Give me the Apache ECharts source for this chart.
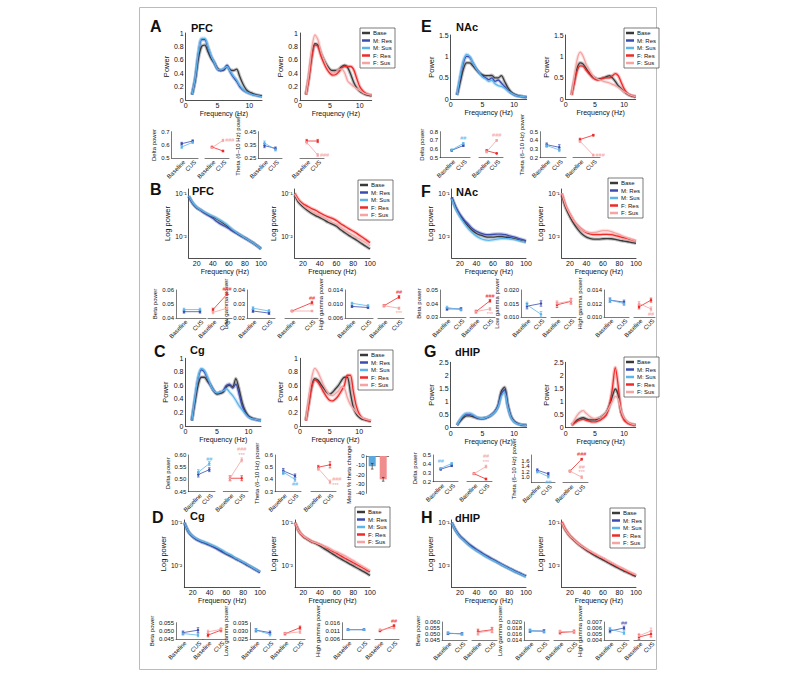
<!DOCTYPE html>
<html><head><meta charset="utf-8">
<script src="https://cdn.jsdelivr.net/npm/echarts@6/dist/echarts.min.js"></script>
<style>html,body{margin:0;padding:0;background:#fff}#c{width:791px;height:684px}</style>
</head><body><div id="c"></div><script>
// ---------- DATA ----------
const freqTheta = [1,1.5,2,2.5,3,3.5,4,4.5,5,5.5,6,6.5,7,7.5,8,8.5,9,9.5,10,10.5,11,11.5,12];
const freqGamma = [10,15,20,25,30,35,40,45,50,55,60,65,70,75,80,85,90,95,100];
const legendNames = ['Base','M: Res','M: Sus','F: Res','F: Sus'];
const dotCats = ['Baseline','CUS'];

const A_M_base = [.08,.3,.62,.8,.82,.72,.62,.55,.47,.44,.45,.5,.45,.44,.46,.35,.24,.16,.12,.1,.08,.07,.06];
const A_M_res  = [.08,.32,.7,.9,.9,.78,.65,.56,.46,.44,.46,.52,.42,.34,.28,.2,.15,.12,.1,.08,.07,.06,.05];
const A_M_sus  = [.08,.33,.72,.92,.92,.8,.66,.56,.46,.45,.47,.5,.43,.36,.3,.22,.16,.12,.1,.08,.07,.06,.05];
const A_F_base = [.08,.35,.68,.84,.82,.7,.6,.52,.46,.44,.44,.46,.5,.52,.48,.38,.26,.18,.13,.1,.08,.07,.06];
const A_F_res  = [.08,.33,.65,.82,.8,.66,.55,.46,.4,.37,.38,.42,.48,.5,.5,.5,.45,.32,.2,.14,.1,.08,.07];
const A_F_sus  = [.08,.4,.78,.97,.9,.72,.6,.5,.43,.4,.42,.46,.46,.4,.28,.24,.2,.17,.14,.11,.09,.08,.07];
const C_M_base = [.08,.35,.6,.72,.72,.66,.6,.52,.47,.48,.5,.58,.6,.58,.7,.55,.35,.22,.15,.12,.1,.09,.08];
const C_M_res  = [.08,.4,.7,.83,.8,.7,.6,.52,.48,.5,.52,.6,.62,.56,.62,.48,.3,.2,.14,.11,.1,.09,.08];
const C_M_sus  = [.08,.42,.72,.85,.82,.72,.6,.52,.49,.5,.52,.55,.5,.45,.38,.3,.24,.18,.13,.11,.1,.09,.08];
const C_F_base = [.08,.35,.6,.7,.68,.62,.56,.5,.47,.5,.55,.6,.67,.72,.72,.5,.28,.18,.13,.1,.09,.08,.07];
const C_F_res  = [.08,.33,.58,.68,.65,.58,.5,.43,.38,.37,.4,.45,.52,.6,.75,.75,.52,.3,.18,.12,.1,.08,.07];
const C_F_sus  = [.08,.42,.72,.85,.8,.7,.6,.52,.46,.45,.48,.52,.58,.56,.42,.32,.26,.2,.15,.12,.1,.09,.08];
const E_M_base = [.1,.4,.7,.85,.85,.78,.7,.62,.57,.55,.55,.56,.5,.5,.55,.42,.28,.18,.12,.09,.07,.06,.05];
const E_M_res  = [.1,.5,.85,1.0,.98,.85,.72,.62,.55,.5,.46,.5,.42,.45,.38,.3,.22,.15,.11,.08,.07,.06,.05];
const E_M_sus  = [.1,.55,.9,1.05,1.0,.85,.72,.62,.52,.48,.42,.44,.36,.32,.3,.26,.2,.15,.11,.08,.07,.06,.05];
const E_F_base = [.1,.45,.75,.85,.82,.72,.62,.55,.5,.47,.48,.5,.53,.55,.5,.42,.32,.25,.18,.13,.09,.07,.05];
const E_F_res  = [.1,.4,.68,.78,.77,.68,.6,.52,.47,.45,.47,.5,.5,.5,.55,.6,.55,.4,.25,.15,.1,.08,.07];
const E_F_sus  = [.1,.55,.95,1.1,1.0,.82,.7,.58,.5,.47,.45,.42,.4,.38,.35,.32,.28,.23,.18,.14,.1,.08,.06];
const G_M_base = [.1,.25,.38,.45,.45,.42,.38,.35,.35,.37,.42,.5,.62,.85,1.4,1.55,.9,.45,.25,.17,.12,.1,.09];
const G_M_res  = [.1,.3,.45,.52,.52,.47,.4,.36,.35,.37,.42,.5,.62,.85,1.3,1.45,.85,.42,.24,.16,.12,.1,.09];
const G_M_sus  = [.1,.32,.48,.55,.55,.5,.42,.37,.36,.38,.43,.5,.6,.8,1.2,1.35,.8,.4,.22,.15,.12,.1,.09];
const G_F_base = [.1,.2,.3,.36,.38,.34,.3,.3,.3,.34,.4,.48,.6,.85,1.2,1.48,1.25,.6,.35,.22,.15,.12,.1];
const G_F_res  = [.1,.18,.25,.3,.32,.28,.25,.22,.22,.25,.3,.38,.5,.85,1.5,2.3,1.6,.6,.3,.2,.14,.11,.09];
const G_F_sus  = [.1,.3,.48,.6,.65,.55,.45,.38,.35,.37,.4,.47,.6,.8,1.0,1.2,1.1,.65,.38,.25,.17,.13,.1];

const B_M_base = [.085,.058,.046,.04,.035,.031,.028,.025,.022,.019,.016,.0135,.0118,.0103,.0091,.008,.007,.006,.0051];
const B_M_res  = [.085,.058,.046,.04,.034,.03,.026,.022,.019,.017,.015,.013,.0115,.0101,.009,.0079,.0069,.006,.005];
const B_M_sus  = [.087,.06,.047,.041,.036,.032,.029,.026,.023,.02,.017,.014,.012,.0105,.0092,.008,.007,.006,.0051];
const B_F_base = [.09,.06,.048,.04,.034,.03,.027,.024,.021,.019,.017,.014,.012,.0103,.009,.0078,.0067,.0058,.005];
const B_F_res  = [.1,.07,.057,.05,.044,.04,.035,.031,.028,.026,.023,.0195,.017,.0148,.013,.0113,.0097,.0083,.007];
const B_F_sus  = [.095,.065,.052,.044,.038,.034,.03,.027,.024,.021,.019,.016,.0138,.012,.0105,.0092,.008,.007,.006];
const D_M_base = [.1,.062,.048,.041,.037,.034,.031,.028,.025,.022,.019,.017,.015,.0135,.012,.0105,.0093,.0082,.0072];
const D_M_res  = [.1,.06,.047,.04,.036,.033,.03,.027,.024,.021,.019,.017,.015,.0133,.0118,.0104,.0092,.0081,.007];
const D_M_sus  = [.1,.062,.049,.042,.038,.035,.032,.029,.026,.023,.02,.018,.0155,.0138,.0122,.0108,.0095,.0083,.0073];
const D_F_base = [.1,.062,.048,.041,.036,.033,.029,.025,.022,.019,.0165,.0145,.0128,.0113,.01,.0088,.0078,.0069,.006];
const D_F_res  = [.1,.062,.048,.042,.037,.034,.031,.028,.025,.022,.0195,.017,.015,.0133,.0118,.0105,.0093,.0082,.0073];
const D_F_sus  = [.1,.062,.049,.042,.037,.034,.031,.028,.026,.023,.021,.019,.017,.015,.0132,.0115,.01,.0088,.0077];
const F_M_base = [.08,.045,.03,.022,.017,.0135,.0115,.0105,.0098,.0095,.0095,.0097,.0098,.0095,.0092,.0088,.0083,.0078,.0074];
const F_M_res  = [.08,.047,.032,.024,.019,.015,.013,.0118,.011,.0108,.011,.0112,.0112,.0108,.0102,.0096,.009,.0084,.0078];
const F_M_sus  = [.075,.042,.028,.02,.015,.012,.01,.0088,.0082,.008,.0082,.0085,.0088,.0088,.0087,.0084,.008,.0076,.0072];
const F_F_base = [.09,.045,.028,.019,.014,.011,.0095,.0088,.0085,.0085,.0087,.0088,.0087,.0084,.008,.0077,.0074,.0071,.0068];
const F_F_res  = [.1,.05,.032,.022,.017,.014,.012,.0112,.0108,.0108,.011,.011,.0108,.0103,.0097,.0092,.0087,.0082,.0077];
const F_F_sus  = [.1,.05,.032,.022,.017,.014,.0125,.012,.0122,.0128,.0135,.0135,.0128,.0118,.0108,.0098,.009,.0083,.0077];
const H_M_base = [.1,.065,.048,.039,.032,.027,.023,.02,.0175,.0155,.0138,.0122,.0108,.0096,.0086,.0077,.007,.0063,.0057];
const H_M_res  = [.1,.066,.049,.04,.033,.028,.024,.021,.018,.016,.014,.0125,.011,.0098,.0088,.0079,.0071,.0064,.0058];
const H_M_sus  = [.1,.064,.047,.038,.031,.026,.0225,.0195,.017,.015,.0134,.012,.0107,.0095,.0085,.0076,.0069,.0062,.0056];
const H_F_base = [.1,.065,.048,.039,.032,.027,.023,.02,.0175,.0155,.0138,.0122,.0108,.0096,.0086,.0077,.007,.0063,.0057];
const H_F_res  = [.105,.068,.05,.04,.033,.028,.024,.021,.0185,.0165,.0147,.013,.0115,.0102,.0091,.0082,.0073,.0066,.006];
const H_F_sus  = [.1,.066,.049,.04,.033,.028,.0245,.0215,.019,.0168,.015,.0133,.0118,.0105,.0094,.0084,.0076,.0068,.0062];

// Dot plots: rows = [Res, Sus], each [baseline, CUS, errBaseline, errCUS]
const A_deltaM = [[.61,.63,.01,.008],[.585,.62,.01,.008]];
const A_deltaF = [[.585,.555,.006,.006],[.58,.635,.006,.008]];
const A_thetaM = [[.345,.325,.015,.01],[.365,.315,.015,.01]];
const A_thetaF = [[.38,.38,.012,.012],[.37,.275,.012,.01]];
const B_betaM = [[.0445,.0445,.001,.001],[.046,.046,.001,.001]];
const B_betaF = [[.046,.057,.001,.001],[.044,.047,.001,.001]];
const B_lgM = [[.025,.0235,.001,.001],[.027,.025,.001,.001]];
const B_lgF = [[.025,.031,.0005,.001],[.025,.025,.0005,.0005]];
const B_hgM = [[.0093,.009,.0003,.0003],[.0102,.0095,.0003,.0003]];
const B_hgF = [[.0095,.012,.0003,.0004],[.0095,.0088,.0003,.0003]];
const C_deltaM = [[.52,.54,.01,.008],[.53,.565,.01,.008]];
const C_deltaF = [[.505,.505,.01,.01],[.505,.58,.01,.008]];
const C_thetaM = [[.47,.43,.02,.015],[.46,.40,.02,.015]];
const C_thetaF = [[.50,.52,.015,.025],[.49,.38,.015,.015]];
const C_barVals = [-11,-25];
const C_barErr = [3,2];
const D_betaM = [[.049,.0505,.001,.0015],[.0485,.0475,.001,.001]];
const D_betaF = [[.0475,.0505,.001,.001],[.0495,.051,.001,.001]];
const D_lgM = [[.0305,.029,.001,.001],[.0305,.028,.001,.001]];
const D_lgF = [[.0283,.032,.0007,.001],[.0285,.0295,.0007,.001]];
const D_hgM = [[.0118,.0118,.0005,.0005],[.0118,.0118,.0005,.0005]];
const D_hgF = [[.011,.0142,.0004,.0005],[.0118,.0128,.0004,.0005]];
const E_deltaM = [[.585,.64,.01,.01],[.59,.665,.01,.01]];
const E_deltaF = [[.58,.55,.015,.005],[.57,.70,.015,.01]];
const E_thetaM = [[.35,.32,.02,.03],[.34,.29,.02,.02]];
const E_thetaF = [[.41,.46,.015,.01],[.39,.23,.015,.01]];
const F_betaM = [[.036,.036,.001,.001],[.037,.0355,.001,.001]];
const F_betaF = [[.034,.042,.001,.001],[.034,.036,.001,.001]];
const F_lgM = [[.014,.015,.001,.001],[.0145,.011,.001,.001]];
const F_lgF = [[.0145,.0158,.001,.001],[.015,.016,.001,.001]];
const F_hgM = [[.0125,.0122,.0003,.0003],[.0125,.012,.0003,.0003]];
const F_hgF = [[.0115,.0125,.0003,.0003],[.012,.0112,.0003,.0003]];
const G_deltaM = [[.34,.38,.01,.01],[.35,.405,.01,.01]];
const G_deltaF = [[.29,.23,.01,.01],[.29,.37,.01,.015]];
const G_thetaM = [[1.25,1.12,.05,.05],[1.2,1.02,.05,.05]];
const G_thetaF = [[1.22,1.65,.03,.03],[1.22,1.0,.03,.05]];
const H_betaM = [[.0505,.0502,.001,.001],[.0508,.05,.001,.001]];
const H_betaF = [[.052,.0535,.002,.002],[.051,.053,.002,.002]];
const H_lgM = [[.017,.017,.0005,.0005],[.0172,.0168,.0005,.0005]];
const H_lgF = [[.0165,.0168,.0005,.0005],[.0168,.0168,.0005,.0005]];
const H_hgM = [[.0055,.006,.0003,.0003],[.0058,.0052,.0003,.0003]];
const H_hgF = [[.0045,.005,.0004,.0005],[.0047,.0055,.0004,.0005]];

// ---------- BUILD ----------
const FONT = '"Liberation Sans", Arial, Helvetica, sans-serif';
const COL = {base:'#3a3a3a', mres:'#3b4cb0', msus:'#5cb5ea', fres:'#ee2a2a', fsus:'#f5a3a3'};
const grids=[], xAxes=[], yAxes=[], series=[], legends=[], graphics=[];
const LINE = {color:'#222', width:0.8};
const pair = (xs, ys) => xs.map((x,i)=>[x, ys[i]]);
const SUP = {'-':'\u207B','1':'\u00B9','2':'\u00B2','3':'\u00B3'};

function spectrum(o){
  const gi = grids.length;
  grids.push({left:o.l, top:o.t, width:o.w, height:o.h});
  const log = !!o.log;
  xAxes.push({gridIndex:gi, type:'value', min: log?10:0, max: log?100:12, interval: log?10:1,
    axisLine:{show:true, onZero:false, lineStyle:LINE}, axisTick:{show:false}, splitLine:{show:false},
    axisLabel:{fontSize:7, color:'#111', margin:2, fontFamily:FONT,
      formatter: v => { const r=Math.round(v); if (Math.abs(v-r)>1e-6) return ''; return log ? ([20,40,60,80,100].includes(r)?String(r):'') : ([0,5,10].includes(r)?String(r):''); }},
    name:'Frequency (Hz)', nameLocation:'middle', nameGap:9, nameTextStyle:{fontSize:7, color:'#111', fontFamily:FONT}});
  if (log) {
    yAxes.push({gridIndex:gi, type:'log', logBase:10, min:o.ymin, max:o.ymax,
      axisLine:{show:true, lineStyle:LINE}, axisTick:{show:false}, splitLine:{show:false}, minorTick:{show:false},
      axisLabel:{fontSize:6.5, color:'#111', margin:2, fontFamily:FONT, formatter: v => { const lg=Math.log10(v); const r=Math.round(lg); if (Math.abs(lg-r)>1e-6) return ''; return '10'+String(r).split('').map(ch=>SUP[ch]).join(''); }},
      name:'Log power', nameLocation:'middle', nameGap:o.ng||17, nameTextStyle:{fontSize:7.5, color:'#111', fontFamily:FONT}});
  } else {
    yAxes.push({gridIndex:gi, type:'value', min:0, max:o.ymax, interval:o.yint,
      axisLine:{show:true, onZero:false, lineStyle:LINE}, axisTick:{show:false}, splitLine:{show:false},
      axisLabel:{fontSize:7, color:'#111', margin:2, fontFamily:FONT, formatter: v => String(+v.toFixed(2))},
      name:'Power', nameLocation:'middle', nameGap:o.ng||14, nameTextStyle:{fontSize:7.5, color:'#111', fontFamily:FONT}});
  }
  const xs = log ? freqGamma : freqTheta;
  o.curves.forEach(c => {
    series.push({type:'line', name:c.name+' band', xAxisIndex:gi, yAxisIndex:gi, data:pair(xs,c.data), symbol:'none', smooth:0.3, silent:true, animation:false,
      lineStyle:{width:3.5, color:c.color, opacity:0.3}, itemStyle:{color:c.color}, z:1});
    series.push({type:'line', name:c.name, xAxisIndex:gi, yAxisIndex:gi, data:pair(xs,c.data), symbol:'none', smooth:0.3, silent:true, animation:false,
      lineStyle:{width:1.3, color:c.color}, itemStyle:{color:c.color}, z:2});
  });
}

function legendAt(l,t){
  legends.push({left:l, top:t, orient:'vertical', data:legendNames, icon:'rect', itemWidth:8, itemHeight:2.5, itemGap:1.5,
    textStyle:{fontSize:6, color:'#111', fontFamily:FONT, padding:[0,0,0,-2]}, borderColor:'#444', borderWidth:0.7, padding:[2,3,2,2],
    backgroundColor:'#fff', selectedMode:false, z:10});
}

function errRender(col){
  return (p, api) => {
    const x = api.value(0);
    const a = api.coord([x, api.value(1)]), b = api.coord([x, api.value(2)]);
    const st = {stroke:col, lineWidth:0.7};
    return {type:'group', children:[
      {type:'line', shape:{x1:a[0],y1:a[1],x2:b[0],y2:b[1]}, style:st},
      {type:'line', shape:{x1:a[0]-1.3,y1:a[1],x2:a[0]+1.3,y2:a[1]}, style:st},
      {type:'line', shape:{x1:b[0]-1.3,y1:b[1],x2:b[0]+1.3,y2:b[1]}, style:st}]};
  };
}

function dotPlot(o){
  const unit = o.p1 - o.p0;
  const gi = grids.length;
  grids.push({left:o.ax, top:o.t, width:o.end-o.ax, height:o.b-o.t});
  xAxes.push({gridIndex:gi, type:'value', min:(o.ax-o.p0)/unit, max:(o.end-o.p0)/unit,
    axisLine:{show:true, onZero:false, lineStyle:{color:'#222', width:0.6}}, axisTick:{show:false}, axisLabel:{show:false}, splitLine:{show:false}});
  yAxes.push({gridIndex:gi, type:'value', min:o.ymin, max:o.ymax, interval:o.yint,
    axisLine:{show:!!o.showY, onZero:false, lineStyle:{color:'#222', width:0.6}}, axisTick:{show:false}, splitLine:{show:false},
    axisLabel:{show:!!o.showY, fontSize:6, color:'#111', margin:2, fontFamily:FONT, formatter: v => v.toFixed(o.dec)},
    name: o.showY ? o.yname : '', nameLocation:'middle', nameGap:o.ng||15, nameTextStyle:{fontSize:6, color:'#111', fontFamily:FONT}});
  o.rows.forEach((r,k) => {
    const col = o.cols[k];
    const data = [[0,r[0]],[1,r[1]]].map((v,i) => {
      const a = (o.ann||[]).find(q => q.k===k && q.i===i);
      return a ? {value:v, label:{show:true, formatter:a.text, position:a.pos||'top', distance:a.d||1, fontSize:5.5, lineHeight:5.5, color:col, fontFamily:FONT}} : {value:v};
    });
    series.push({type:'custom', xAxisIndex:gi, yAxisIndex:gi, data:[[0,r[0]-r[2],r[0]+r[2]],[1,r[1]-r[3],r[1]+r[3]]], renderItem:errRender(col), clip:false, silent:true, animation:false, z:2});
    series.push({type:'line', xAxisIndex:gi, yAxisIndex:gi, data, symbol:'circle', symbolSize:2.5, lineStyle:{width:0.8, color:col}, itemStyle:{color:col}, animation:false, silent:true, z:3});
  });
  series.push({type:'custom', xAxisIndex:gi, yAxisIndex:gi, data:[[0,o.ymin],[1,o.ymin]], clip:false, silent:true, animation:false,
    renderItem:(p, api) => { const pt = api.coord([api.value(0), api.value(1)]);
      return {type:'text', x:pt[0]+2.5, y:pt[1]+3, rotation:Math.PI/4,
        style:{text:dotCats[api.value(0)], align:'right', verticalAlign:'middle', fontSize:6, fill:'#111', fontFamily:FONT}}; }});
}

function label(x, y, txt, size){
  graphics.push({type:'text', left:x, top:y, style:{text:txt, font:'bold '+size+'px '+FONT, fill:'#111'}});
}

const MC = [COL.mres, COL.msus], FC = [COL.fres, COL.fsus];
const mCurves = (b,r,s) => [{name:'Base',color:COL.base,data:b},{name:'M: Res',color:COL.mres,data:r},{name:'M: Sus',color:COL.msus,data:s}];
const fCurves = (b,r,s) => [{name:'Base',color:COL.base,data:b},{name:'F: Res',color:COL.fres,data:r},{name:'F: Sus',color:COL.fsus,data:s}];

// ---- Panel A ----
label(150,18,'A',16); label(191,22,'PFC',11);
spectrum({l:185.7,t:33,w:76.3,h:67,ymax:1,yint:0.2,curves:mCurves(A_M_base,A_M_res,A_M_sus)});
spectrum({l:300,t:33,w:71.7,h:67,ymax:1,yint:0.2,curves:fCurves(A_F_base,A_F_res,A_F_sus)});
legendAt(360,28);
dotPlot({ax:171.7,p0:181.7,p1:192.7,end:198,t:131.7,b:158.3,ymin:.5,ymax:.7,yint:.1,dec:1,showY:1,yname:'Delta power',rows:A_deltaM,cols:MC});
dotPlot({ax:205,p0:212,p1:223,end:229,t:131.7,b:158.3,ymin:.5,ymax:.7,yint:.1,dec:1,rows:A_deltaF,cols:FC,ann:[{k:1,i:1,text:'###',pos:'right'}]});
dotPlot({ax:258.3,p0:264.5,p1:275.5,end:282,t:131.7,b:158.3,ymin:.25,ymax:.45,yint:.1,dec:2,showY:1,yname:'Theta (6\u201310 Hz) power',ng:17,rows:A_thetaM,cols:MC});
dotPlot({ax:300,p0:306.7,p1:317.7,end:324,t:131.7,b:158.3,ymin:.25,ymax:.45,yint:.1,dec:2,rows:A_thetaF,cols:FC,ann:[{k:1,i:1,text:'###',pos:'right'}]});

// ---- Panel B ----
label(150,181,'B',16); label(192,185,'PFC',11);
spectrum({log:1,l:188.7,t:189,w:72.3,h:69,ymin:0.0031,ymax:0.125,curves:mCurves(B_M_base,B_M_res,B_M_sus)});
spectrum({log:1,l:294.6,t:189,w:75.4,h:69,ymin:0.0031,ymax:0.125,curves:fCurves(B_F_base,B_F_res,B_F_sus)});
legendAt(358,180);
dotPlot({ax:176,p0:184,p1:200,end:206,t:290,b:318,ymin:.04,ymax:.06,yint:.01,dec:2,showY:1,yname:'Beta power',rows:B_betaM,cols:MC});
dotPlot({ax:208,p0:213,p1:227,end:232,t:290,b:318,ymin:.04,ymax:.06,yint:.01,dec:2,rows:B_betaF,cols:FC,ann:[{k:0,i:1,text:'###'},{k:1,i:1,text:'**'}]});
dotPlot({ax:247,p0:253,p1:269,end:275,t:290,b:318,ymin:.02,ymax:.04,yint:.01,dec:2,showY:1,yname:'Low gamma power',rows:B_lgM,cols:MC});
dotPlot({ax:285,p0:292,p1:312,end:318,t:290,b:318,ymin:.02,ymax:.04,yint:.01,dec:2,rows:B_lgF,cols:FC,ann:[{k:0,i:1,text:'##'},{k:1,i:1,text:'**'}]});
dotPlot({ax:345,p0:352,p1:368,end:373,t:290,b:318,ymin:.006,ymax:.014,yint:.004,dec:3,showY:1,yname:'High gamma power',ng:17,rows:B_hgM,cols:MC});
dotPlot({ax:378,p0:384,p1:399,end:404,t:290,b:318,ymin:.006,ymax:.014,yint:.004,dec:3,rows:B_hgF,cols:FC,ann:[{k:0,i:1,text:'##'},{k:1,i:1,text:'***',pos:'bottom'}]});

// ---- Panel C ----
label(154,343,'C',16); label(190,344,'Cg',11);
spectrum({l:185.5,t:358.3,w:75.5,h:67.7,ymax:1,yint:0.2,curves:mCurves(C_M_base,C_M_res,C_M_sus)});
spectrum({l:300,t:358.3,w:71,h:67.7,ymax:1,yint:0.2,curves:fCurves(C_F_base,C_F_res,C_F_sus)});
legendAt(358,350);
dotPlot({ax:188.3,p0:198.3,p1:209.3,end:215,t:455,b:491.7,ymin:.45,ymax:.60,yint:.05,dec:2,showY:1,yname:'Delta power',rows:C_deltaM,cols:MC,ann:[{k:1,i:1,text:'##'}]});
dotPlot({ax:223.3,p0:230,p1:241.7,end:248,t:455,b:491.7,ymin:.45,ymax:.60,yint:.05,dec:2,rows:C_deltaF,cols:FC,ann:[{k:1,i:1,text:'###\n***'}]});
dotPlot({ax:275,p0:283.3,p1:295,end:301,t:455,b:491.7,ymin:.3,ymax:.6,yint:.1,dec:1,showY:1,yname:'Theta (6\u201310 Hz) power',rows:C_thetaM,cols:MC,ann:[{k:1,i:1,text:'##',pos:'bottom'}]});
dotPlot({ax:311,p0:318.3,p1:330,end:336,t:455,b:491.7,ymin:.3,ymax:.6,yint:.1,dec:1,rows:C_thetaF,cols:FC,ann:[{k:1,i:1,text:'###\n***',pos:'right'}]});
(function(){
  const gi = grids.length;
  grids.push({left:366.7, top:456, width:22, height:37.3});
  xAxes.push({gridIndex:gi, type:'category', data:['M','F'], axisLine:{show:true, lineStyle:{color:'#222',width:0.6}}, axisTick:{show:false}, axisLabel:{show:false}});
  yAxes.push({gridIndex:gi, type:'value', min:-40, max:0, interval:10, axisLine:{show:true, lineStyle:{color:'#222',width:0.6}}, axisTick:{show:false}, splitLine:{show:false},
    axisLabel:{fontSize:6, color:'#111', margin:2, fontFamily:FONT}, name:'Mean % theta change', nameLocation:'middle', nameGap:14, nameTextStyle:{fontSize:6, color:'#111', fontFamily:FONT}});
  series.push({type:'bar', xAxisIndex:gi, yAxisIndex:gi, barWidth:7, silent:true, animation:false,
    data:C_barVals.map((v,i)=>({value:v, itemStyle:{color:[ '#5aa8de','#f08e8e'][i]}}))});
  series.push({type:'custom', xAxisIndex:gi, yAxisIndex:gi, data:C_barVals.map((v,i)=>[i, v-C_barErr[i], v+C_barErr[i]]), renderItem:errRender('#333'), clip:false, silent:true, z:5});
})();

// ---- Panel D ----
label(152,509,'D',16); label(190,510,'Cg',11);
spectrum({log:1,l:184.3,t:520,w:75.7,h:67.3,ymin:0.0032,ymax:0.115,curves:mCurves(D_M_base,D_M_res,D_M_sus)});
spectrum({log:1,l:295,t:520,w:75,h:67.3,ymin:0.0032,ymax:0.115,curves:fCurves(D_F_base,D_F_res,D_F_sus)});
legendAt(355,507);
dotPlot({ax:176,p0:183,p1:198,end:203,t:622.7,b:639.3,ymin:.045,ymax:.055,yint:.005,dec:3,showY:1,yname:'Beta power',ng:17,rows:D_betaM,cols:MC});
dotPlot({ax:203,p0:208,p1:221,end:226,t:622.7,b:639.3,ymin:.045,ymax:.055,yint:.005,dec:3,rows:D_betaF,cols:FC});
dotPlot({ax:250,p0:256,p1:270,end:276,t:622.7,b:639.3,ymin:.025,ymax:.035,yint:.005,dec:3,showY:1,yname:'Low gamma power',ng:17,rows:D_lgM,cols:MC});
dotPlot({ax:280,p0:285,p1:300,end:305,t:622.7,b:639.3,ymin:.025,ymax:.035,yint:.005,dec:3,rows:D_lgF,cols:FC});
dotPlot({ax:342,p0:348,p1:364,end:370,t:622.7,b:639.3,ymin:.006,ymax:.016,yint:.005,dec:3,showY:1,yname:'High gamma power',ng:17,rows:D_hgM,cols:MC});
dotPlot({ax:375,p0:380,p1:394,end:399,t:622.7,b:639.3,ymin:.006,ymax:.016,yint:.005,dec:3,rows:D_hgF,cols:FC,ann:[{k:0,i:1,text:'##'}]});

// ---- Panel E ----
label(421,18,'E',16); label(456,21,'NAc',11);
spectrum({l:450.7,t:35,w:76,h:64.3,ymax:1.5,yint:0.5,curves:mCurves(E_M_base,E_M_res,E_M_sus)});
spectrum({l:565.7,t:35,w:70,h:64.3,ymax:1.5,yint:0.5,curves:fCurves(E_F_base,E_F_res,E_F_sus)});
legendAt(624,28);
dotPlot({ax:440,p0:451.7,p1:463.3,end:470,t:131.7,b:157.7,ymin:.5,ymax:.8,yint:.1,dec:1,showY:1,yname:'Delta power',rows:E_deltaM,cols:MC,ann:[{k:1,i:1,text:'##'}]});
dotPlot({ax:479,p0:486.7,p1:496.7,end:503,t:131.7,b:157.7,ymin:.5,ymax:.8,yint:.1,dec:1,rows:E_deltaF,cols:FC,ann:[{k:1,i:1,text:'###'}]});
dotPlot({ax:540,p0:546.7,p1:559.3,end:566,t:131.7,b:157.7,ymin:.2,ymax:.5,yint:.1,dec:1,showY:1,yname:'Theta (6\u201310 Hz) power',rows:E_thetaM,cols:MC});
dotPlot({ax:573,p0:580,p1:593.3,end:600,t:131.7,b:157.7,ymin:.2,ymax:.5,yint:.1,dec:1,rows:E_thetaF,cols:FC,ann:[{k:1,i:1,text:'###',pos:'right'}]});

// ---- Panel F ----
label(421,183,'F',16); label(456,186,'NAc',11);
spectrum({log:1,l:451.7,t:189,w:74.3,h:69,ymin:0.0031,ymax:0.125,curves:mCurves(F_M_base,F_M_res,F_M_sus)});
spectrum({log:1,l:561.7,t:189,w:74.3,h:69,ymin:0.0031,ymax:0.125,curves:fCurves(F_F_base,F_F_res,F_F_sus)});
legendAt(608,178);
dotPlot({ax:440,p0:447,p1:461,end:466,t:290,b:317,ymin:.03,ymax:.05,yint:.01,dec:2,showY:1,yname:'Beta power',rows:F_betaM,cols:MC});
dotPlot({ax:470,p0:476,p1:490,end:495,t:290,b:317,ymin:.03,ymax:.05,yint:.01,dec:2,rows:F_betaF,cols:FC,ann:[{k:0,i:1,text:'###'},{k:1,i:1,text:'***',pos:'bottom'}]});
dotPlot({ax:521,p0:527,p1:541,end:546,t:290,b:317,ymin:.010,ymax:.020,yint:.005,dec:3,showY:1,yname:'Low gamma power',ng:17,rows:F_lgM,cols:MC});
dotPlot({ax:551,p0:557,p1:571,end:576,t:290,b:317,ymin:.010,ymax:.020,yint:.005,dec:3,rows:F_lgF,cols:FC});
dotPlot({ax:604,p0:610,p1:624,end:629,t:290,b:317,ymin:.010,ymax:.014,yint:.002,dec:3,showY:1,yname:'High gamma power',ng:17,rows:F_hgM,cols:MC});
dotPlot({ax:634,p0:639,p1:651,end:655,t:290,b:317,ymin:.010,ymax:.014,yint:.002,dec:3,rows:F_hgF,cols:FC,ann:[{k:1,i:1,text:'##',pos:'bottom'}]});

// ---- Panel G ----
label(424,343,'G',16); label(455,346,'dHIP',11);
spectrum({l:450.7,t:362.3,w:76,h:65.4,ymax:2.5,yint:0.5,curves:mCurves(G_M_base,G_M_res,G_M_sus)});
spectrum({l:565.7,t:362.3,w:70,h:65.4,ymax:2.5,yint:0.5,curves:fCurves(G_F_base,G_F_res,G_F_sus)});
legendAt(624,357);
dotPlot({ax:433,p0:440.7,p1:451.7,end:458,t:455,b:481.7,ymin:.2,ymax:.5,yint:.1,dec:1,showY:1,yname:'Delta power',rows:G_deltaM,cols:MC,ann:[{k:1,i:0,text:'##',pos:'top',d:3}]});
dotPlot({ax:467,p0:474,p1:486,end:492,t:455,b:481.7,ymin:.2,ymax:.5,yint:.1,dec:1,rows:G_deltaF,cols:FC,ann:[{k:1,i:1,text:'##\n***'}]});
dotPlot({ax:531.7,p0:537.3,p1:548.3,end:555,t:455,b:482.7,ymin:.8,ymax:1.8,yint:.2,dec:1,showY:1,yname:'Theta (6\u201310 Hz) power',rows:G_thetaM,cols:MC,ann:[{k:1,i:1,text:'##',pos:'bottom'}]});
dotPlot({ax:563,p0:570,p1:581.7,end:588,t:455,b:482.7,ymin:.8,ymax:1.8,yint:.2,dec:1,rows:G_thetaF,cols:FC,ann:[{k:0,i:1,text:'###'},{k:1,i:1,text:'##\n***',pos:'top'}]});

// ---- Panel H ----
label(421,509,'H',16); label(455,512,'dHIP',11);
spectrum({log:1,l:451.7,t:520,w:74.3,h:67.3,ymin:0.0032,ymax:0.115,curves:mCurves(H_M_base,H_M_res,H_M_sus)});
spectrum({log:1,l:561.7,t:520,w:74.3,h:67.3,ymin:0.0032,ymax:0.115,curves:fCurves(H_F_base,H_F_res,H_F_sus)});
legendAt(610,508);
dotPlot({ax:442,p0:448,p1:462,end:467,t:622,b:640,ymin:.045,ymax:.060,yint:.005,dec:3,showY:1,yname:'Beta power',ng:17,rows:H_betaM,cols:MC});
dotPlot({ax:472,p0:478,p1:492,end:497,t:622,b:640,ymin:.045,ymax:.060,yint:.005,dec:3,rows:H_betaF,cols:FC});
dotPlot({ax:524,p0:530,p1:544,end:549,t:622,b:640,ymin:.014,ymax:.020,yint:.002,dec:3,showY:1,yname:'Low gamma power',ng:17,rows:H_lgM,cols:MC});
dotPlot({ax:554,p0:560,p1:574,end:579,t:622,b:640,ymin:.014,ymax:.020,yint:.002,dec:3,rows:H_lgF,cols:FC});
dotPlot({ax:604,p0:610,p1:624,end:629,t:622,b:640,ymin:.004,ymax:.007,yint:.001,dec:3,showY:1,yname:'High gamma power',ng:17,rows:H_hgM,cols:MC,ann:[{k:0,i:1,text:'##'}]});
dotPlot({ax:634,p0:639,p1:651,end:655,t:622,b:640,ymin:.004,ymax:.007,yint:.001,dec:3,rows:H_hgF,cols:FC});

// border
graphics.push({type:'rect', shape:{x:139.5, y:7.5, width:517, height:662}, style:{fill:'none', stroke:'#bbb', lineWidth:1}, z:-1});

const chart = echarts.init(document.getElementById('c'), null, {renderer:'svg'});
chart.setOption({animation:false, backgroundColor:'#fff', textStyle:{fontFamily:FONT}, grid:grids, xAxis:xAxes, yAxis:yAxes, series, legend:legends, graphic:graphics});
</script></body></html>
